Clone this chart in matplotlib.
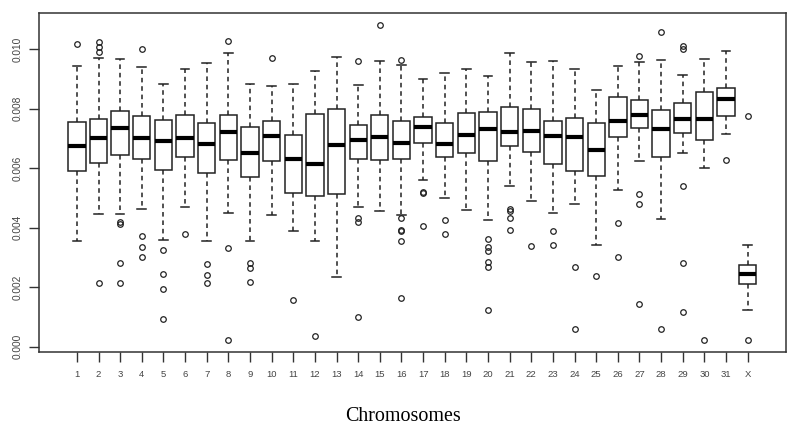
import matplotlib
matplotlib.use('Agg')
import matplotlib.pyplot as plt

# chromosome labels
chroms = [str(i) for i in range(1, 32)] + ['X']

# five-number summaries (whisker low, Q1, median, Q3, whisker high)
whis_lo = [0.003563, 0.004459, 0.004459, 0.004627, 0.003585, 0.004706, 0.003563, 0.004504,
           0.003563, 0.004437, 0.003899, 0.003563, 0.002331, 0.004683, 0.004560, 0.004426,
           0.005602, 0.005008, 0.004605, 0.004258, 0.005389, 0.004896, 0.004504, 0.004807,
           0.003406, 0.005266, 0.006230, 0.004303, 0.006510, 0.006017, 0.007159, 0.001232]
q1 = [0.005916, 0.006185, 0.006443, 0.006297, 0.005950, 0.006387, 0.005826, 0.006263,
      0.005703, 0.006230, 0.005154, 0.005076, 0.005120, 0.006308, 0.006286, 0.006319,
      0.006835, 0.006387, 0.006499, 0.006252, 0.006734, 0.006555, 0.006129, 0.005916,
      0.005737, 0.007036, 0.007350, 0.006387, 0.007182, 0.006936, 0.007754, 0.002118]
medians = [0.006756, 0.007014, 0.007361, 0.007014, 0.006913, 0.007014, 0.006812, 0.007204,
           0.006510, 0.007081, 0.006308, 0.006151, 0.006768, 0.006947, 0.007048, 0.006857,
           0.007384, 0.006812, 0.007126, 0.007328, 0.007227, 0.007261, 0.007081, 0.007048,
           0.006599, 0.007597, 0.007787, 0.007317, 0.007664, 0.007641, 0.008314, 0.002443]
q3 = [0.007563, 0.007664, 0.007910, 0.007754, 0.007630, 0.007776, 0.007507, 0.007776,
      0.007373, 0.007597, 0.007126, 0.007821, 0.007978, 0.007440, 0.007787, 0.007597,
      0.007720, 0.007529, 0.007843, 0.007899, 0.008056, 0.007978, 0.007597, 0.007686,
      0.007529, 0.008403, 0.008280, 0.007944, 0.008190, 0.008560, 0.008683, 0.002745]
whis_hi = [0.009434, 0.009714, 0.009681, 0.009400, 0.008840, 0.009333, 0.009546, 0.009882,
           0.008818, 0.008751, 0.008829, 0.009255, 0.009726, 0.008784, 0.009602, 0.009468,
           0.008986, 0.009188, 0.009333, 0.009087, 0.009882, 0.009557, 0.009591, 0.009333,
           0.008627, 0.009434, 0.009557, 0.009636, 0.009120, 0.009681, 0.009927, 0.003417]

# outliers per chromosome
outliers = [
    [0.010185],
    [0.010230, 0.010084, 0.009894, 0.002151],
    [0.004202, 0.004123, 0.002801, 0.002151],
    [0.010017, 0.003731, 0.003361, 0.003003],
    [0.003249, 0.002443, 0.001938, 0.000919],
    [0.003776],
    [0.002779, 0.002409, 0.002129],
    [0.010275, 0.003305, 0.000235],
    [0.002824, 0.002655, 0.002185],
    [0.009714],
    [0.001569],
    [0.000359],
    [],
    [0.009602, 0.004314, 0.004179, 0.001008],
    [0.010812],
    [0.009647, 0.004314, 0.003922, 0.003888, 0.003563, 0.001636],
    [0.005199, 0.005165, 0.004045],
    [0.004269, 0.003776],
    [],
    [0.003619, 0.003339, 0.003227, 0.002857, 0.002689, 0.001232],
    [0.004627, 0.004549, 0.004325, 0.003933],
    [0.003373],
    [0.003877, 0.003406],
    [0.002689, 0.000605],
    [0.002375],
    [0.004146, 0.003003],
    [0.009782, 0.005120, 0.004807, 0.001445],
    [0.010577, 0.000605],
    [0.010095, 0.009994, 0.005412, 0.002812, 0.001165],
    [0.000235],
    [0.006263],
    [0.007754, 0.000235],
]

stats = []
for i, name in enumerate(chroms):
    stats.append(dict(label=name, whislo=whis_lo[i], q1=q1[i], med=medians[i],
                      q3=q3[i], whishi=whis_hi[i], fliers=outliers[i]))

fig = plt.figure(figsize=(8, 4.38), dpi=100)
ax = fig.add_axes([0.04875, 0.1957, 0.93375, 0.7739])

ax.bxp(stats, positions=range(1, len(chroms) + 1), widths=0.8, capwidths=0.4,
       patch_artist=True,
       boxprops=dict(facecolor='white', edgecolor='#222222', linewidth=1.1),
       whiskerprops=dict(color='#222222', linestyle=(0, (3, 2.5)), linewidth=1.1),
       capprops=dict(color='#222222', linewidth=1.1),
       medianprops=dict(color='black', linewidth=3, solid_capstyle='butt'),
       flierprops=dict(marker='o', markerfacecolor='none', markeredgecolor='#222222',
                       markersize=4, markeredgewidth=0.9))

ax.set_xlim(-0.75, 33.77)
ax.set_ylim(-0.000188, 0.011207)
ax.set_yticks([0.000, 0.002, 0.004, 0.006, 0.008, 0.010])
ax.set_yticklabels(['0.000', '0.002', '0.004', '0.006', '0.008', '0.010'],
                   rotation=90, va='center', fontsize=7.3, color='#444444',
                   family='Liberation Sans')
ax.set_xticks(range(1, len(chroms) + 1))
ax.set_xticklabels(chroms, fontsize=6.8, color='#444444', family='Liberation Sans')
ax.tick_params(axis='both', direction='out', length=7, width=1, color='#333333')
ax.tick_params(axis='x', pad=6)
ax.tick_params(axis='y', pad=4.5)

for side in ax.spines.values():
    side.set_color('#333333')
    side.set_linewidth(1.1)

fig.text(0.504, 0.048, 'Chromosomes', ha='center', va='center', fontsize=14.4,
         family='Liberation Serif')

fig.savefig('out.png', dpi=100)
